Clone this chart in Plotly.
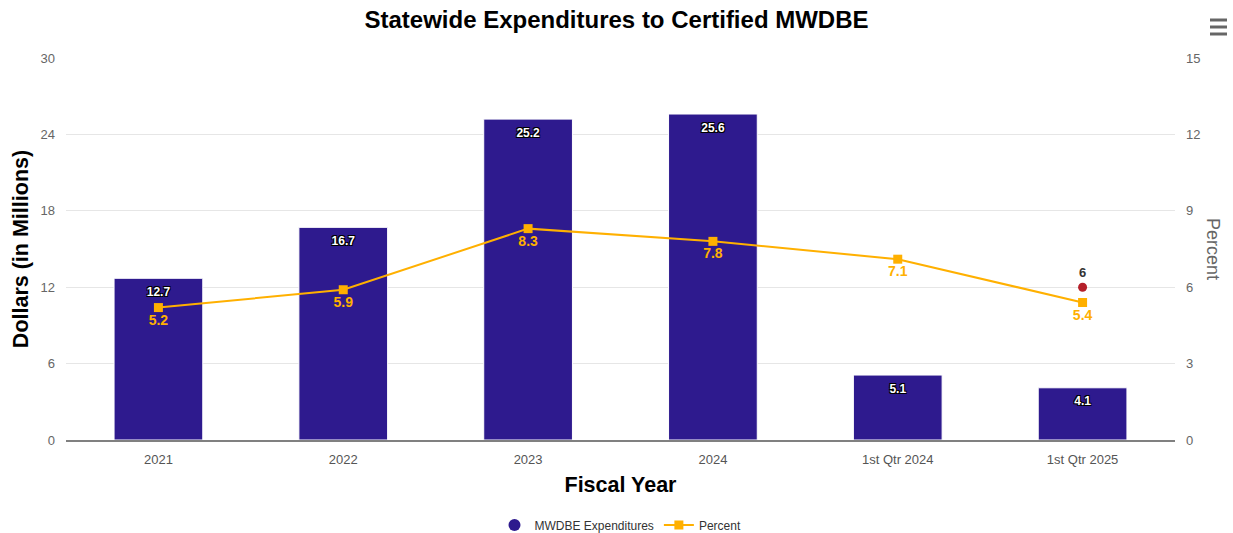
import plotly.graph_objects as go

categories = ["2021", "2022", "2023", "2024", "1st Qtr 2024", "1st Qtr 2025"]
expenditures = [12.7, 16.7, 25.2, 25.6, 5.1, 4.1]
percent = [5.2, 5.9, 8.3, 7.8, 7.1, 5.4]
goal_category = ["1st Qtr 2025"]
goal_value = [6]

outline = "-1px -1px 0 #000, 1px -1px 0 #000, -1px 1px 0 #000, 1px 1px 0 #000"
BAR = "#2e1a8e"
LINE = "#ffb000"

fig = go.Figure()
fig.add_trace(go.Bar(
    x=categories, y=expenditures, name="MWDBE Expenditures",
    marker=dict(color=BAR, line=dict(color="#ffffff", width=1)),
    yaxis="y", showlegend=False,
))
# bar value labels, placed just below each bar top
fig.add_trace(go.Scatter(
    x=categories, y=expenditures, yaxis="y", mode="markers+text",
    marker=dict(size=12, color="rgba(0,0,0,0)"),
    text=[f"{v}" for v in expenditures], textposition="bottom center",
    textfont=dict(color="#ffffff", size=12, family="Arial", weight="bold", shadow=outline),
    showlegend=False, hoverinfo="skip",
))
# legend proxy for bars (circle symbol)
fig.add_trace(go.Scatter(
    x=[None], y=[None], name="MWDBE Expenditures", mode="markers",
    marker=dict(symbol="circle", size=12, color=BAR), showlegend=True,
))
fig.add_trace(go.Scatter(
    x=categories, y=percent, name="Percent", yaxis="y2",
    mode="lines+markers+text",
    line=dict(color=LINE, width=2),
    marker=dict(symbol="square", size=9, color=LINE),
    text=[f"{v}" for v in percent], textposition="bottom center",
    textfont=dict(color=LINE, size=14, family="Arial", weight="bold"),
))
fig.add_trace(go.Scatter(
    x=goal_category, y=goal_value, yaxis="y2", mode="markers+text",
    marker=dict(symbol="circle", size=9, color="#b5202a"),
    text=[str(v) for v in goal_value], textposition="top center",
    textfont=dict(color="#333333", size=13, family="Arial", weight="bold"),
    showlegend=False,
))

fig.update_layout(
    width=1233, height=533,
    paper_bgcolor="#ffffff", plot_bgcolor="#ffffff",
    margin=dict(l=66, r=58, t=58, b=93, autoexpand=False),
    title=dict(text="<b>Statewide Expenditures to Certified MWDBE</b>", x=0.5, xanchor="center",
               yref="container", y=1 - 20 / 533, yanchor="middle",
               font=dict(size=24, color="#000000", family="Arial")),
    bargap=0.52,
    font=dict(family="Arial", color="#666666", size=13),
    xaxis=dict(
        type="category",
        categoryorder="array", categoryarray=categories, automargin=False,
        showgrid=False, showline=True, linecolor="#808080", linewidth=1.5,
        ticks="", tickfont=dict(size=13, color="#555555"), ticklabelstandoff=7,
        title=dict(text="<b>Fiscal Year</b>", font=dict(size=21.5, color="#000000"), standoff=11),
    ),
    yaxis=dict(
        range=[0, 30], tickvals=[0, 6, 12, 18, 24, 30], automargin=False,
        showgrid=True, gridcolor="#e6e6e6", zeroline=False,
        tickfont=dict(size=13, color="#666666"), ticks="", ticklabelstandoff=10,
        title=dict(text="<b>Dollars (in Millions)</b>", font=dict(size=21.5, color="#000000"), standoff=6),
    ),
    yaxis2=dict(
        range=[0, 15], tickvals=[0, 3, 6, 9, 12, 15], overlaying="y", side="right",
        automargin=False,
        showgrid=False, zeroline=False, ticks="", ticklabelstandoff=10,
        tickfont=dict(size=13, color="#666666"),
    ),
    legend=dict(orientation="h", x=0.5, xanchor="center", yref="container", y=8 / 533,
                yanchor="middle", font=dict(size=12, color="#333333")),
    annotations=[
        dict(text="Percent", textangle=90, xref="paper", yref="paper", x=1.0, xshift=50,
             y=0.5, showarrow=False, font=dict(size=18, color="#666666")),
    ],
)

# menu icon (three bars) at top-right
for yy in [20, 27, 34]:
    fig.add_shape(type="rect", xref="paper", yref="paper",
                  x0=(1210 - 66) / 1109, x1=(1227 - 66) / 1109,
                  y0=(440 - yy - 1.5) / 382, y1=(440 - yy + 1.5) / 382,
                  fillcolor="#666666", line=dict(width=0), layer="above")

fig.write_html("out.html", config={"displayModeBar": False},
               post_script="document.body.style.margin='0px';")
